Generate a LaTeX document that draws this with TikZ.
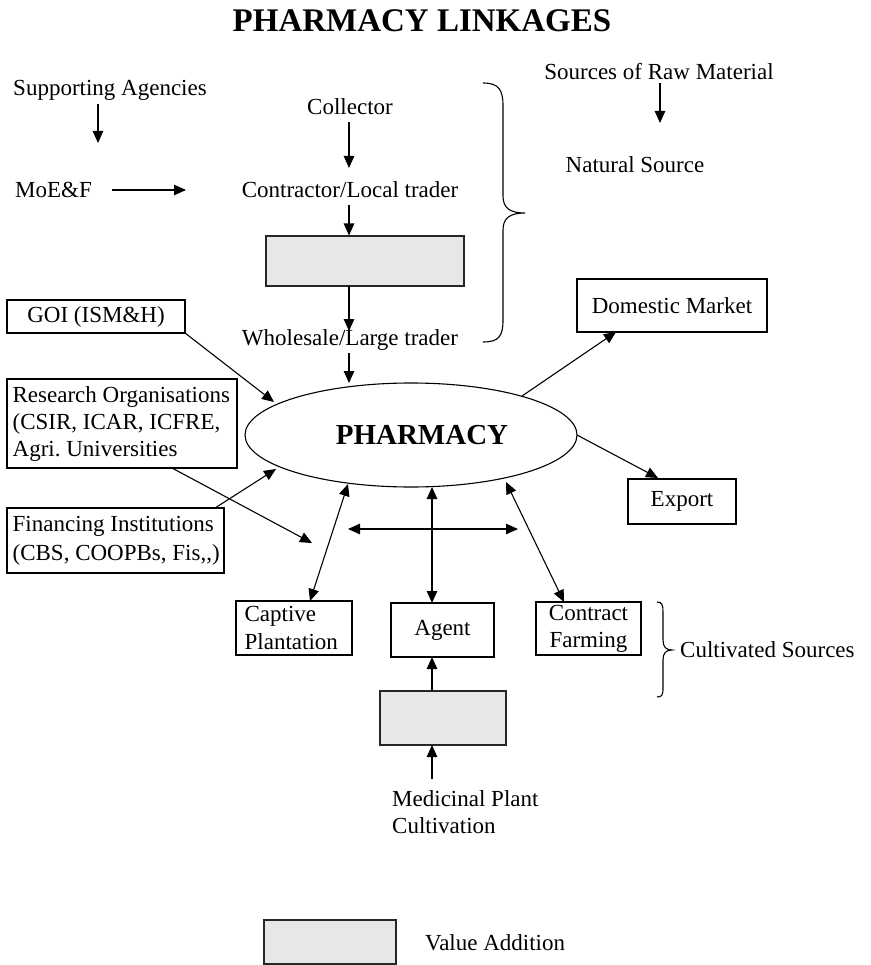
\documentclass[tikz,border=0pt]{standalone}
\usepackage{fontspec}
\setmainfont{Liberation Serif}
\usetikzlibrary{arrows.meta,shapes.geometric}
\definecolor{vafill}{RGB}{230,231,233}
\tikzset{
  lbl/.style={font=\fontsize{23}{27}\selectfont, inner sep=0pt},
  box/.style={lbl, draw, line width=1.1pt},
  vabox/.style={draw=black!85, fill=vafill, line width=1.1pt, inner sep=0pt},
  arr/.style={line width=1.1pt, -{Triangle[length=12pt,width=10.5pt]}},
  darr/.style={line width=1.1pt, {Triangle[length=12pt,width=10.5pt]}-{Triangle[length=12pt,width=10.5pt]}},
  brc/.style={line width=1.1pt}
}
\frenchspacing
\begin{document}
\frenchspacing
\begin{tikzpicture}[x=1pt,y=-1pt]
\useasboundingbox (0,0) rectangle (870,965);
% title
\node[font=\fontsize{33}{36}\selectfont\bfseries, inner sep=0pt] (title) at (422,21) {PHARMACY LINKAGES};
% left column
\node[lbl] (sup) at (110,90) {Supporting Agencies};
\node[lbl, anchor=west] (moef) at (15,190) {MoE\&F};
\coordinate (supa) at (98,104);
\coordinate (supb) at (98,143);
\coordinate (moa) at (112,190);
\coordinate (mob) at (186,190);
% centre column
\node[lbl] (col) at (350,107) {Collector};
\node[lbl] (con) at (350,190) {Contractor/Local trader};
\node[vabox, minimum width=198pt, minimum height=50pt] (va1) at (365,261) {};
\node[lbl] (whl) at (350,340) {Wholesale/Large trader};
% right top
\node[lbl] (src) at (659,72) {Sources of Raw Material};
\node[lbl] (nat) at (635,165) {Natural Source};
\coordinate (srca) at (660,83);
\coordinate (srcb) at (660,123);
% brace natural
\draw[brc] (483,83) .. controls (499,83) and (503,90) .. (503,106) -- (503,196) .. controls (503,208) and (510,213) .. (525,213) .. controls (510,213) and (503,218) .. (503,230) -- (503,320) .. controls (503,336) and (499,342) .. (483,342);
% pharmacy
\node[draw, ellipse, line width=1.1pt, minimum width=332pt, minimum height=104pt, inner sep=0pt] (ph) at (411,435) {};
\node[font=\fontsize{29}{30}\selectfont\bfseries, inner sep=0pt] (phl) at (422,435) {PHARMACY};
% left boxes
\node[box, minimum width=178pt, minimum height=33pt] (goi) at (96,316.5) {GOI (ISM\&H)};
\node[box, minimum width=230pt, minimum height=89pt] (res) at (122,423.5) {};
\node[lbl, anchor=west, align=left] (rest) at ([xshift=6pt]res.west) {Research Organisations\\(CSIR, ICAR, ICFRE,\\Agri. Universities};
\node[box, minimum width=217pt, minimum height=65pt] (fin) at (115.5,540.5) {};
\node[lbl, anchor=west, align=left, font=\fontsize{23}{29}\selectfont] (fint) at ([xshift=6pt]fin.west) {Financing Institutions\\(CBS, COOPBs, Fis,\kern0pt,\kern0pt)};
% right boxes
\node[box, minimum width=190pt, minimum height=53pt] (dom) at (672,305.5) {Domestic Market};
\node[box, minimum width=108pt, minimum height=45pt] (exp) at (682,501.5) {Export};
% bottom boxes
\node[box, minimum width=116pt, minimum height=54pt] (cap) at (294,628) {};
\node[lbl, anchor=west, align=left, font=\fontsize{23}{28}\selectfont] (capt) at ([xshift=9pt]cap.west) {Captive\\Plantation};
\node[box, minimum width=103pt, minimum height=54pt] (agt) at (442.5,630) {Agent};
\node[box, minimum width=105pt, minimum height=53pt, align=center, font=\fontsize{23}{27}\selectfont] (ctf) at (588.5,628.5) {Contract\\Farming};
\node[vabox, minimum width=126pt, minimum height=54pt] (va2) at (443,718) {};
\node[lbl, anchor=west, align=left] (med) at (392,812.5) {Medicinal Plant\\Cultivation};
% cultivated brace
\draw[brc] (657,602) .. controls (662,602) and (663,605) .. (663,612) -- (663,640) .. controls (663,647) and (666,650) .. (672,650) .. controls (666,650) and (663,653) .. (663,660) -- (663,688) .. controls (663,695) and (662,697) .. (657,697);
\node[lbl, anchor=west] (cult) at (680,650) {Cultivated Sources};
% legend
\node[vabox, minimum width=132pt, minimum height=44pt] (leg) at (330,942) {};
\node[lbl, anchor=west] (legt) at (425,943) {Value Addition};
% coordinates for connectors
\coordinate (ca) at (349,122);  \coordinate (cb) at (349,168);
\coordinate (cc) at (349,205);  \coordinate (cd) at (349,235.5);
\coordinate (ce) at (349,286);  \coordinate (cf) at (349,331);
\coordinate (cg) at (349,353);  \coordinate (ch) at (349,383);
\coordinate (goia) at (185,333); \coordinate (goib) at (274,402);
\coordinate (resa) at (172,468); \coordinate (resb) at (312,543);
\coordinate (fina) at (215,508); \coordinate (finb) at (276,469);
\coordinate (doma) at (522,396); \coordinate (domb) at (616,332);
\coordinate (expa) at (577,435); \coordinate (expb) at (658,478);
\coordinate (capa) at (348,484); \coordinate (capb) at (310,601);
\coordinate (agta) at (432,487); \coordinate (agtb) at (432,603);
\coordinate (ctfa) at (506,482); \coordinate (ctfb) at (564,602);
\coordinate (hza) at (348,529);  \coordinate (hzb) at (518,529);
\coordinate (v2a) at (432,691);  \coordinate (v2b) at (432,657);
\coordinate (mda) at (432,779);  \coordinate (mdb) at (432,745);
% connectors
\draw[arr] (supa) -- (supb);
\draw[arr] (moa) -- (mob);
\draw[arr] (srca) -- (srcb);
\draw[arr] (ca) -- (cb);
\draw[arr] (cc) -- (cd);
\draw[arr] (ce) -- (cf);
\draw[arr] (cg) -- (ch);
\draw[arr] (goia) -- (goib);
\draw[arr] (resa) -- (resb);
\draw[arr] (fina) -- (finb);
\draw[arr] (doma) -- (domb);
\draw[arr] (expa) -- (expb);
\draw[darr] (capa) -- (capb);
\draw[darr] (agta) -- (agtb);
\draw[darr] (ctfa) -- (ctfb);
\draw[darr] (hza) -- (hzb);
\draw[arr] (v2a) -- (v2b);
\draw[arr] (mda) -- (mdb);
\end{tikzpicture}
\end{document}
